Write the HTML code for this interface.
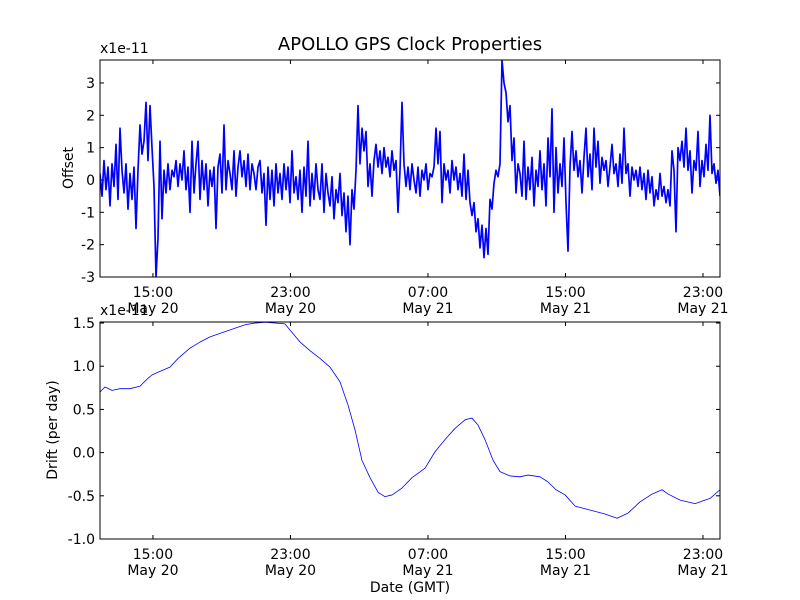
<!DOCTYPE html>
<html><head><meta charset="utf-8"><style>
body{margin:0;background:#fff;}
svg{display:block;font-family:"DejaVu Sans","Liberation Sans",sans-serif;}
</style></head><body>
<svg id="c" width="800" height="600"></svg>
<script>
// ---- data ----
const startHour = 11.92, endHour = 47.99;
const offsetVals = [
0.2,-0.5,0.6,-0.3,0.4,-0.8,0.5,-0.2,1.1,-0.6,
1.6,0.3,-0.4,0.5,-0.9,0.2,-0.6,0.4,-1.5,0.3,
1.7,0.8,1.2,2.4,0.6,2.3,1.0,-0.2,-3.0,-1.8,
1.2,-1.2,0.3,-0.4,0.5,-0.3,0.3,0.1,0.6,-0.2,
0.5,0.0,0.9,-0.3,0.4,-1.0,1.2,-0.4,0.5,1.2,
-0.6,0.6,-0.3,0.5,-0.8,0.3,-0.2,0.4,-1.5,0.4,
0.8,-0.4,1.7,-0.3,0.6,0.2,-0.3,0.9,-0.5,0.4,
0.9,0.1,0.6,-0.2,0.8,-0.3,0.5,0.2,-0.3,0.4,
0.6,-0.4,0.2,-1.4,0.4,-0.6,0.3,-0.8,0.5,-0.4,
0.2,-0.6,0.5,-0.3,0.4,-0.7,0.9,-0.4,0.1,-0.6,
0.3,-1.0,0.4,-0.5,1.2,-0.8,0.2,-0.6,0.5,-0.3,
-0.6,0.5,-1.0,0.2,-0.4,-0.8,0.1,-1.2,-0.3,-0.7,
0.2,-1.1,-0.4,-1.6,-0.5,-2.0,-0.3,-0.9,0.3,2.3,
0.5,1.6,0.9,1.5,-0.2,0.5,-0.5,0.6,1.1,0.4,
0.9,0.2,1.0,0.4,0.7,0.1,0.9,0.3,0.6,-1.0,
0.3,2.4,0.5,-0.2,0.4,-0.3,0.5,0.0,-0.4,0.4,
-0.5,0.3,0.0,0.5,-0.3,0.2,0.1,0.4,1.6,0.5,
1.5,-0.7,0.5,0.0,0.3,-0.4,0.6,0.0,0.4,-0.3,
0.2,-0.5,0.8,-0.6,0.3,-0.7,-1.1,-0.7,-1.6,-1.2,
-2.1,-1.4,-2.4,-1.5,-2.3,-0.6,-0.9,-0.1,0.3,0.1,
0.5,3.7,3.0,2.7,1.8,2.3,0.6,1.3,-0.4,0.5,
0.2,-0.5,1.2,-0.6,0.4,-0.3,0.7,-0.8,0.3,-0.2,
0.9,-0.3,0.5,-0.8,1.3,0.1,2.2,-1.0,1.0,-0.4,
0.5,-0.2,1.3,-0.7,-2.2,0.4,1.5,0.3,0.9,0.1,
0.6,-0.4,0.7,1.6,0.1,0.8,-0.3,1.6,0.4,1.2,
-0.1,0.7,0.3,0.6,-0.2,0.4,1.1,0.2,0.5,-0.2,
0.8,-0.1,1.6,0.2,0.5,-0.5,0.4,0.0,0.3,-0.2,
0.4,-0.3,0.2,-0.6,0.3,-0.4,0.1,-0.8,-0.3,-0.6,
0.2,-0.5,-0.2,-0.7,-0.3,-0.8,0.9,0.3,-1.6,1.0,
0.6,1.2,0.4,1.6,0.3,0.9,-0.4,0.6,0.3,1.5,
-0.2,0.6,0.1,1.1,0.3,2.0,0.2,0.5,-0.1,0.3,
-0.5];
const driftHours = [11.92,12.21,12.62,13.08,13.67,14.25,14.71,14.95,15.41,15.99,16.46,17.16,17.74,18.32,18.90,19.77,20.36,20.94,21.52,22.68,22.97,23.56,24.14,24.72,25.30,25.88,26.35,26.76,27.16,27.63,28.10,28.50,28.91,29.49,30.07,30.83,31.41,31.99,32.57,33.16,33.56,33.91,34.32,34.79,35.19,35.77,36.36,36.82,37.52,37.99,38.45,38.98,39.56,40.14,40.72,41.30,42.00,42.64,43.34,44.04,44.62,44.97,45.67,46.54,47.41,47.99];
const driftVals = [0.70,0.76,0.72,0.74,0.74,0.77,0.86,0.90,0.94,0.99,1.09,1.21,1.28,1.34,1.38,1.44,1.48,1.50,1.51,1.49,1.42,1.28,1.18,1.09,0.99,0.82,0.55,0.26,-0.09,-0.29,-0.46,-0.51,-0.49,-0.41,-0.29,-0.18,0.01,0.15,0.28,0.38,0.40,0.32,0.15,-0.09,-0.22,-0.27,-0.28,-0.26,-0.28,-0.34,-0.43,-0.49,-0.62,-0.65,-0.68,-0.71,-0.76,-0.70,-0.57,-0.48,-0.43,-0.48,-0.55,-0.59,-0.53,-0.43];
const xTickHours = [15,23,31,39,47];
const xTickTimes = ["15:00","23:00","07:00","15:00","23:00"];
const xTickDates = ["May 20","May 20","May 21","May 21","May 21"];
const offsetTicks = [-3,-2,-1,0,1,2,3];
const driftTicks = [-1.0,-0.5,0.0,0.5,1.0,1.5];

// ---- drawing ----
const svg = document.getElementById('c');
const NS = 'http://www.w3.org/2000/svg';
function mk(tag, attrs, parent){const e=document.createElementNS(NS,tag);for(const k in attrs)e.setAttribute(k,attrs[k]);(parent||svg).appendChild(e);return e;}
const L=100,R=720;
const xs = h => L + (h-startHour)/(endHour-startHour)*(R-L);

function axes(top,h,ymin,ymax,yticks,fmt,name){
  const ys = v => top + h - (v-ymin)/(ymax-ymin)*h;
  const g = mk('g',{});
  
  
  yticks.forEach(v=>{
    const y=ys(v);
    mk('line',{x1:L,x2:L+4,y1:y,y2:y,stroke:'#000'},g);
    mk('line',{x1:R-4,x2:R,y1:y,y2:y,stroke:'#000'},g);
    const t=mk('text',{x:L-5,y:y+5,'text-anchor':'end','font-size':'14'},g);
    t.textContent=fmt(v);
    
    
  });
  xTickHours.forEach((hr,i)=>{
    const x=xs(hr);
    mk('line',{x1:x,x2:x,y1:top+h,y2:top+h-4,stroke:'#000'},g);
    mk('line',{x1:x,x2:x,y1:top,y2:top+4,stroke:'#000'},g);
    const t=mk('text',{x:x,y:top+h+20,'text-anchor':'middle','font-size':'14'},g);
    t.textContent=xTickTimes[i];
    
    
    const d=mk('text',{x:x,y:top+h+36,'text-anchor':'middle','font-size':'14'},g);
    d.textContent=xTickDates[i];
    
    
  });
  const m=mk('text',{x:L,y:top-7,'font-size':'14'},g);
  m.textContent='x1e-11';
  
  
  return ys;
}

// top
const T1=60,H1=217;
const ys1 = axes(T1,H1,-3,3.71,offsetTicks,v=>String(v),'offset');
const step=(endHour-startHour)/(offsetVals.length-1);
let p1='';
offsetVals.forEach((v,i)=>{p1+=(i?'L':'M')+xs(startHour+i*step).toFixed(2)+' '+ys1(v).toFixed(2);});
const cp=mk('clipPath',{id:'cp1'});
mk('rect',{x:L,y:T1,width:R-L,height:H1},cp);
const l1=mk('path',{d:p1,fill:'none',stroke:'#0000ff','stroke-width':'1.7','clip-path':'url(#cp1)','stroke-linejoin':'round'});


mk('rect',{x:L,y:T1,width:R-L,height:H1,fill:'none',stroke:'#000'});

// bottom
const T2=322,H2=217;
const ys2 = axes(T2,H2,-1.0,1.512,driftTicks,v=>v.toFixed(1),'drift');
let p2='';
driftVals.forEach((v,i)=>{p2+=(i?'L':'M')+xs(driftHours[i]).toFixed(2)+' '+ys2(v).toFixed(2);});
const l2=mk('path',{d:p2,fill:'none',stroke:'#0000ff','stroke-width':'0.8','stroke-linejoin':'round'});


mk('rect',{x:L,y:T2,width:R-L,height:H2,fill:'none',stroke:'#000'});

// labels
const title=mk('text',{x:410,y:50,'text-anchor':'middle','font-size':'18'});
title.textContent='APOLLO GPS Clock Properties';


const yl1=mk('text',{x:0,y:0,'text-anchor':'middle','font-size':'14',transform:'translate(73,168) rotate(-90)'});
yl1.textContent='Offset';


const yl2=mk('text',{x:0,y:0,'text-anchor':'middle','font-size':'14',transform:'translate(57,430) rotate(-90)'});
yl2.textContent='Drift (per day)';


const xl=mk('text',{x:410,y:592,'text-anchor':'middle','font-size':'14'});
xl.textContent='Date (GMT)';


</script>
</body></html>
